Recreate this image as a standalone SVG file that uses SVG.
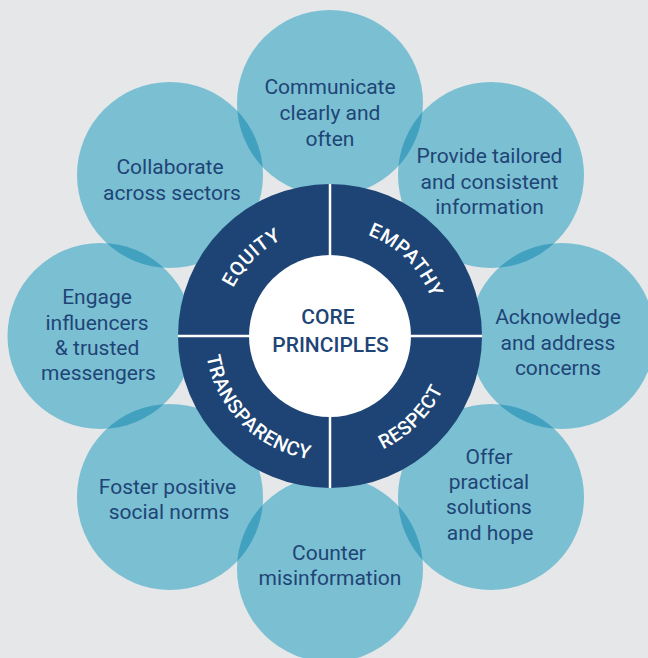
<svg xmlns="http://www.w3.org/2000/svg" width="648" height="658" viewBox="0 0 648 658">
<style>
.bub{fill:#7bbfd3}
.lens{fill:#43a1c0}
.t{font-family:Roboto,"Liberation Sans",sans-serif;font-size:21px;fill:#1e4575;text-anchor:middle}
.ring{fill:#1d4474}
.rt{font-family:Roboto,"Liberation Sans",sans-serif;font-size:19.5px;font-weight:500;fill:#ffffff;letter-spacing:0.6px}
.ct{font-family:Roboto,"Liberation Sans",sans-serif;font-size:21px;font-weight:500;fill:#1e4575;text-anchor:middle}
.div{stroke:#ffffff;stroke-width:2.5}
</style>
<defs>
<clipPath id="c0"><circle cx="330" cy="103" r="93"/></clipPath>
<clipPath id="c1"><circle cx="491" cy="175" r="93"/></clipPath>
<clipPath id="c2"><circle cx="562" cy="336" r="93"/></clipPath>
<clipPath id="c3"><circle cx="491" cy="497" r="93"/></clipPath>
<clipPath id="c4"><circle cx="330" cy="569" r="93"/></clipPath>
<clipPath id="c5"><circle cx="170" cy="497" r="93"/></clipPath>
<clipPath id="c6"><circle cx="100.5" cy="336" r="93"/></clipPath>
<clipPath id="c7"><circle cx="170" cy="175" r="93"/></clipPath>
<path id="pEq" d="M222,336 A108,108 0 0 1 330,228"/>
<path id="pEm" d="M330,228 A108,108 0 0 1 438,336"/>
<path id="pTr" d="M205,336 A125,125 0 0 0 330,461"/>
<path id="pRe" d="M330,461 A125,125 0 0 0 455,336"/>
</defs>
<rect width="648" height="658" fill="#e6e7e9"/>

<g id="bubbles">
<circle class="bub" cx="330" cy="103" r="93"/>
<circle class="bub" cx="491" cy="175" r="93"/>
<circle class="bub" cx="562" cy="336" r="93"/>
<circle class="bub" cx="491" cy="497" r="93"/>
<circle class="bub" cx="330" cy="569" r="93"/>
<circle class="bub" cx="170" cy="497" r="93"/>
<circle class="bub" cx="100.5" cy="336" r="93"/>
<circle class="bub" cx="170" cy="175" r="93"/>
</g>
<g id="lenses">
<circle class="lens" cx="491" cy="175" r="93" clip-path="url(#c0)"/>
<circle class="lens" cx="562" cy="336" r="93" clip-path="url(#c1)"/>
<circle class="lens" cx="491" cy="497" r="93" clip-path="url(#c2)"/>
<circle class="lens" cx="330" cy="569" r="93" clip-path="url(#c3)"/>
<circle class="lens" cx="170" cy="497" r="93" clip-path="url(#c4)"/>
<circle class="lens" cx="100.5" cy="336" r="93" clip-path="url(#c5)"/>
<circle class="lens" cx="170" cy="175" r="93" clip-path="url(#c6)"/>
<circle class="lens" cx="330" cy="103" r="93" clip-path="url(#c7)"/>
</g>

<g id="n-communicate"><text class="t"><tspan x="330" y="94">Communicate</tspan><tspan x="330" y="120">clearly and</tspan><tspan x="330" y="146">often</tspan></text></g>
<g id="n-provide"><text class="t"><tspan x="489.5" y="163">Provide tailored</tspan><tspan x="489.5" y="188.5">and consistent</tspan><tspan x="489.5" y="213.5">information</tspan></text></g>
<g id="n-acknowledge"><text class="t"><tspan x="558" y="324">Acknowledge</tspan><tspan x="558" y="349.5">and address</tspan><tspan x="558" y="374.5">concerns</tspan></text></g>
<g id="n-offer"><text class="t"><tspan x="489" y="463.5">Offer</tspan><tspan x="489" y="489">practical</tspan><tspan x="489" y="514">solutions</tspan><tspan x="490" y="540">and hope</tspan></text></g>
<g id="n-counter"><text class="t"><tspan x="329" y="559.5">Counter</tspan><tspan x="330" y="585">misinformation</tspan></text></g>
<g id="n-foster"><text class="t"><tspan x="167.5" y="493.5">Foster positive</tspan><tspan x="169" y="518.5">social norms</tspan></text></g>
<g id="n-engage"><text class="t"><tspan x="97" y="304">Engage</tspan><tspan x="97" y="330">influencers</tspan><tspan x="97" y="355">&amp; trusted</tspan><tspan x="98.5" y="380">messengers</tspan></text></g>
<g id="n-collaborate"><text class="t"><tspan x="170" y="173.5">Collaborate</tspan><tspan x="172" y="199.5">across sectors</tspan></text></g>

<g id="core">
<circle class="ring" cx="330" cy="336" r="152"/>
<circle cx="330" cy="336" r="81" fill="#ffffff"/>
<g id="connectors">
<line class="div" x1="330" y1="184" x2="330" y2="255"/>
<line class="div" x1="330" y1="417" x2="330" y2="488"/>
<line class="div" x1="178" y1="336" x2="249" y2="336"/>
<line class="div" x1="411" y1="336" x2="482" y2="336"/>
</g>
<text class="rt"><textPath href="#pEq" startOffset="50%" text-anchor="middle">EQUITY</textPath></text>
<text class="rt"><textPath href="#pEm" startOffset="50%" text-anchor="middle">EMPATHY</textPath></text>
<text class="rt"><textPath href="#pTr" startOffset="50%" text-anchor="middle">TRANSPARENCY</textPath></text>
<text class="rt"><textPath href="#pRe" startOffset="50%" text-anchor="middle">RESPECT</textPath></text>
<text class="ct"><tspan x="328" y="324">CORE</tspan><tspan x="330.5" y="351.5">PRINCIPLES</tspan></text>
</g>
</svg>
